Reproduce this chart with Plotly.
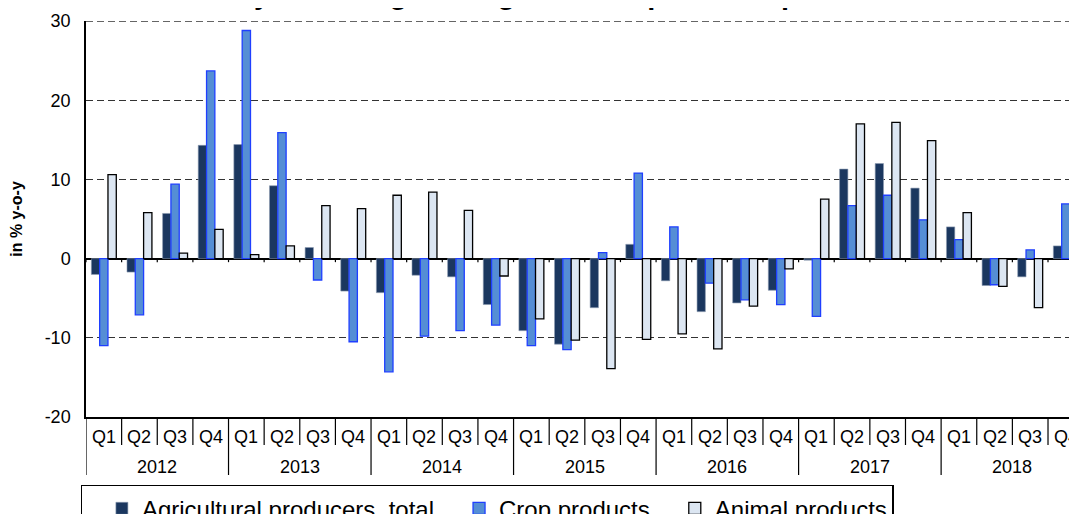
import plotly.graph_objects as go

years = ["2012", "2013", "2014", "2015", "2016", "2017", "2018"]
quarters = ["Q1", "Q2", "Q3", "Q4"]

total = [-2.0, -1.7, 5.7, 14.3,
         14.4, 9.2, 1.4, -4.1,
         -4.3, -2.1, -2.3, -5.8,
         -9.1, -10.8, -6.2, 1.8,
         -2.8, -6.7, -5.6, -4.0,
         -0.2, 11.3, 12.0, 8.9,
         4.0, -3.4, -2.3, 1.6]
crop = [-11.0, -7.1, 9.4, 23.7,
        28.8, 15.9, -2.7, -10.5,
        -14.3, -9.8, -9.1, -8.4,
        -11.0, -11.5, 0.75, 10.8,
        4.0, -3.1, -5.2, -5.8,
        -7.3, 6.7, 8.0, 4.9,
        2.4, -3.3, 1.1, 6.9]
animal = [10.6, 5.8, 0.7, 3.7,
          0.5, 1.6, 6.7, 6.3,
          8.0, 8.4, 6.1, -2.2,
          -7.6, -10.3, -13.9, -10.2,
          -9.5, -11.4, -6.0, -1.3,
          7.5, 17.0, 17.2, 14.9,
          5.8, -3.5, -6.2, -6.7]

series_names = ["Agricultural producers, total", "Crop products", "Animal products"]
title_text = "Year-on-year changes in agricultural producer prices"
y_title = "in % y-o-y"
y_ticks = [-20, -10, 0, 10, 20, 30]
y_ticktext = ["-20", "-10", "0", "10", "20", "30"]

cats = [f"{q} {y}" for y in years for q in quarters]
FONT = "Arial, Liberation Sans, sans-serif"

# the page body adds an 8px offset; figure sized to end at the window edge
W, H = 1069, 506
ML, MT, MB, MR = 78, 13, 97, 0
PH = H - MT - MB
PW = W - ML - MR
CATW = 35.63

fig = go.Figure()
fig.add_trace(go.Bar(x=cats, y=total, name=series_names[0],
                     marker=dict(color="#1B375F", line=dict(color="#8C9BB0", width=0.6))))
fig.add_trace(go.Bar(x=cats, y=crop, name=series_names[1],
                     marker=dict(color="#558ED5", line=dict(color="#1F3FFF", width=1.3))))
fig.add_trace(go.Bar(x=cats, y=animal, name=series_names[2],
                     marker=dict(color="#DCE6F2", line=dict(color="#000000", width=1.3))))

def py2paper(py):
    return (H - MB - py) / PH

def px2paper(px):
    return (px - ML) / PW

shapes = []
n = len(cats)
for k in range(n + 1):
    xb = k - 0.5
    is_year = (k % 4 == 0)
    shapes.append(dict(type="line", xref="x", yref="paper", x0=xb, x1=xb,
                       y0=0, y1=py2paper(467 if is_year else 437),
                       line=dict(color="black", width=1.2)))
    shapes.append(dict(type="line", xref="x", yref="y", x0=xb, x1=xb,
                       y0=0, y1=-0.45, line=dict(color="black", width=1.2)))
# dashed line at the top of the value range
shapes.append(dict(type="line", xref="paper", yref="y", x0=0, x1=1, y0=30, y1=30,
                   line=dict(color="#333333", width=1.3, dash="7px,4px")))

annotations = []
for i, c in enumerate(cats):
    annotations.append(dict(x=i, y=py2paper(429), xref="x", yref="paper",
                            text=c.split(" ")[0], showarrow=False,
                            xanchor="center", yanchor="middle",
                            font=dict(family=FONT, size=18, color="black")))
for j, yv in enumerate(years):
    annotations.append(dict(x=4 * j + 1.5, y=py2paper(459), xref="x", yref="paper",
                            text=yv, showarrow=False,
                            xanchor="center", yanchor="middle",
                            font=dict(family=FONT, size=18, color="black")))
annotations.append(dict(x=px2paper(128), y=py2paper(-14), xref="paper", yref="paper",
                        text=f"<b>{title_text}</b>", showarrow=False,
                        xanchor="left", yanchor="middle",
                        font=dict(family=FONT, size=29, color="black")))

fig.update_layout(
    width=W, height=H,
    margin=dict(l=ML, r=MR, t=MT, b=MB, autoexpand=False),
    paper_bgcolor="white", plot_bgcolor="white",
    barmode="group", bargap=0.3, bargroupgap=0.0,
    font=dict(family=FONT, color="black"),
    showlegend=True,
    legend=dict(orientation="h", x=px2paper(72.7), xanchor="left",
                y=py2paper(477), yanchor="top",
                bordercolor="black", borderwidth=1.2, bgcolor="white",
                font=dict(family=FONT, size=24, color="black"),
                indentation=20, traceorder="normal"),
    shapes=shapes,
    annotations=annotations,
)
fig.update_xaxes(type="category", range=[-0.5, -0.5 + PW / CATW],
                 showticklabels=False, ticks="", showgrid=False, zeroline=False,
                 showline=True, linecolor="black", linewidth=1.5)
fig.update_yaxes(range=[-20, 30], tickvals=y_ticks, ticktext=y_ticktext, ticks="",
                 tickfont=dict(family=FONT, size=18, color="black"),
                 ticklabelstandoff=10,
                 showgrid=True, gridcolor="#333333", gridwidth=1.3, griddash="7px,4px",
                 zeroline=True, zerolinecolor="black", zerolinewidth=1.6,
                 showline=True, linecolor="black", linewidth=1.5,
                 title=dict(text=f"<b>{y_title}</b>", font=dict(family=FONT, size=16, color="black"),
                            standoff=20))

fig.write_html("out.html")
